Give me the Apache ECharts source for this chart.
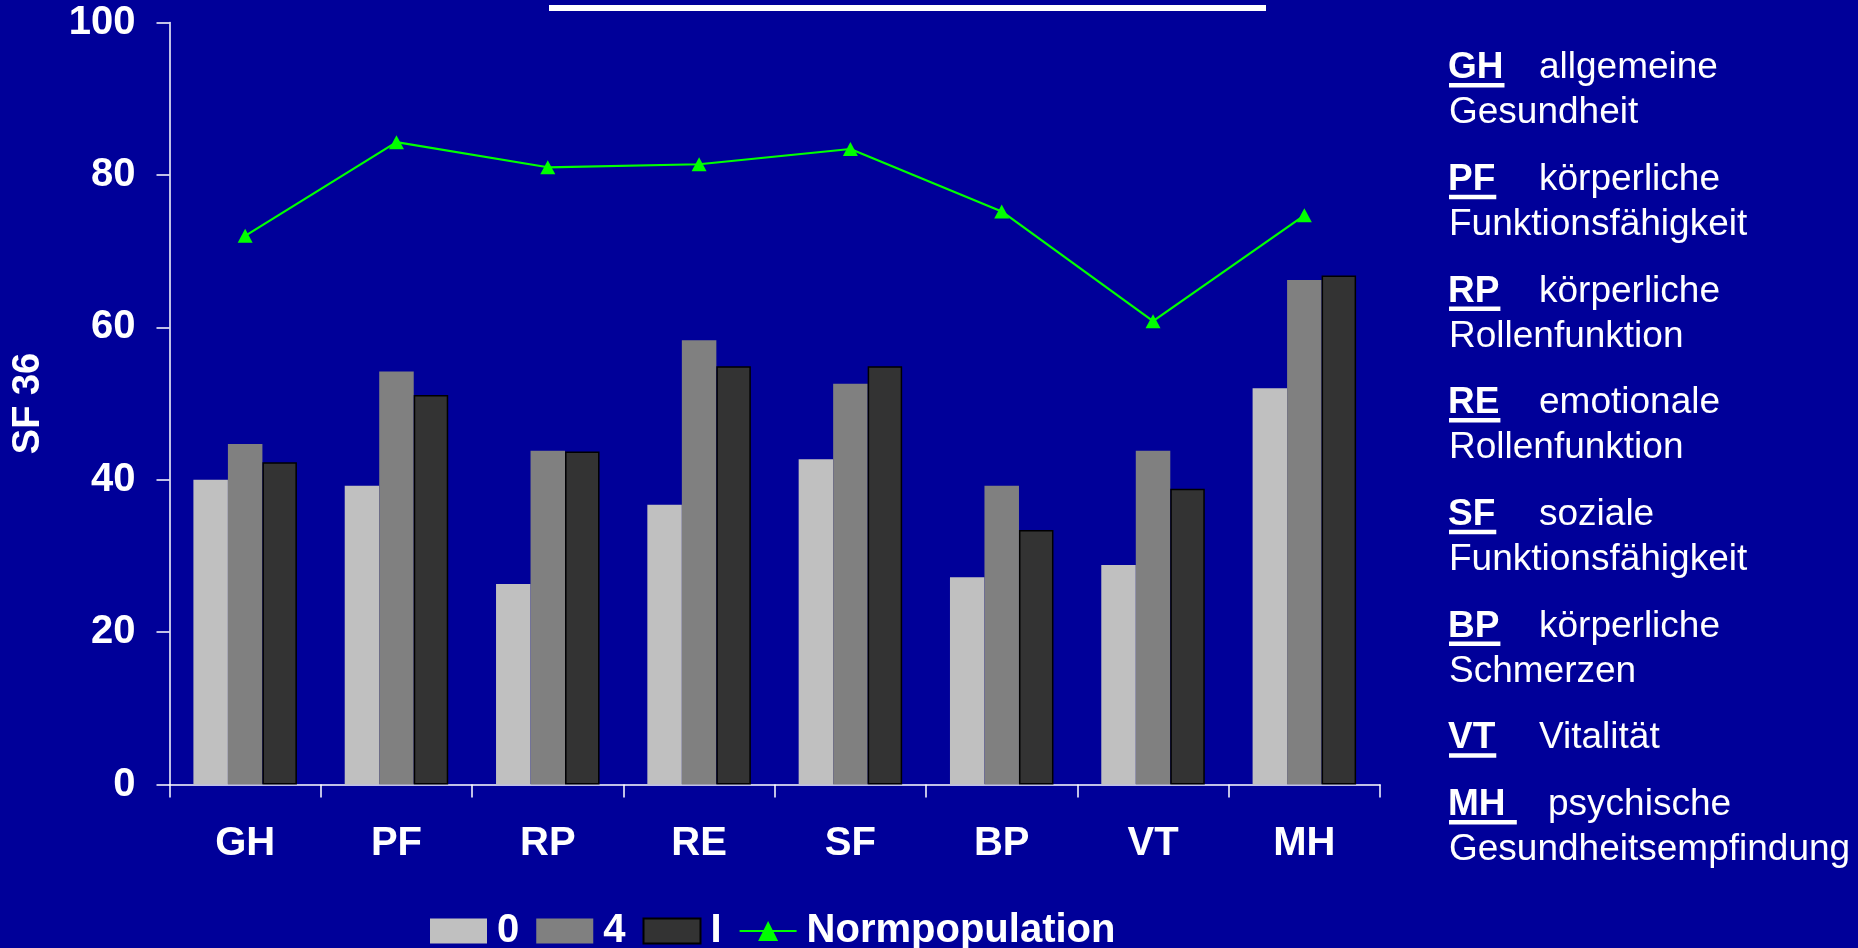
<!DOCTYPE html>
<html>
<head>
<meta charset="utf-8">
<script src="https://cdn.jsdelivr.net/npm/echarts@6.0.0/dist/echarts.min.js"></script>
<style>
  html, body { margin: 0; padding: 0; background: #000099; }
  #chart { width: 1858px; height: 948px; }
</style>
</head>
<body>
<div id="chart"></div>
<script>
  // SF-36 Skalen
  var category = ['GH', 'PF', 'RP', 'RE', 'SF', 'BP', 'VT', 'MH'];
  var data0 = [40.0, 39.2, 26.3, 36.7, 42.7, 27.2, 28.8, 52.0];
  var data4 = [44.7, 54.2, 43.8, 58.3, 52.6, 39.2, 43.8, 66.2];
  var dataI = [42.3, 51.1, 43.7, 54.9, 54.9, 33.4, 38.8, 66.8];
  var normData = [72.0, 84.3, 81.0, 81.4, 83.4, 75.2, 60.8, 74.7];
  var yTicks = [0, 20, 40, 60, 80, 100];

  // Erklärung rechts
  var descFirst = ['allgemeine', 'körperliche', 'körperliche', 'emotionale', 'soziale', 'körperliche', 'Vitalität', 'psychische'];
  var descSecond = ['Gesundheit', 'Funktionsfähigkeit', 'Rollenfunktion', 'Rollenfunktion', 'Funktionsfähigkeit', 'Schmerzen', '', 'Gesundheitsempfindung'];

  var FONT = '"Liberation Sans", Arial, sans-serif';

  function textWidth(str, font) {
    var ctx = document.createElement('canvas').getContext('2d');
    ctx.font = font;
    return ctx.measureText(str).width;
  }

  // Legende rechts als graphic
  var graphic = [
    // Unterstreichung des (abgeschnittenen) Titels
    { type: 'rect', left: 549, top: 5, shape: { width: 717, height: 6 }, style: { fill: '#fff' } }
  ];
  var baseY = 80;
  category.forEach(function (abbr, i) {
    var abbrText = abbr === 'MH' ? 'MH ' : abbr;
    graphic.push({
      type: 'text', x: 1448, y: baseY - 12,
      style: { text: abbr, fill: '#fff', font: 'bold 37px ' + FONT, verticalAlign: 'middle' }
    });
    graphic.push({
      type: 'rect', x: 1449, y: baseY + 3,
      shape: { width: textWidth(abbrText, 'bold 37px ' + FONT), height: 4.5 },
      style: { fill: '#fff' }
    });
    graphic.push({
      type: 'text', x: abbr === 'MH' ? 1548 : 1539, y: baseY - 12,
      style: { text: descFirst[i], fill: '#fff', font: '37px ' + FONT, verticalAlign: 'middle' }
    });
    if (descSecond[i]) {
      baseY += 45;
      graphic.push({
        type: 'text', x: 1449, y: baseY - 12,
        style: { text: descSecond[i], fill: '#fff', font: '37px ' + FONT, verticalAlign: 'middle' }
      });
    }
    baseY += 66.7;
  });

  var myChart = echarts.init(document.getElementById('chart'));
  var option = {
    backgroundColor: '#000099',
    animation: false,
    textStyle: { fontFamily: FONT },
    grid: {
      left: 169.5,
      right: 478,
      top: 22.5,
      bottom: 163.5
    },
    legend: {
      left: 425,
      top: 906,
      itemWidth: 57,
      itemHeight: 25,
      itemGap: 17,
      textStyle: {
        color: '#fff',
        fontSize: 40,
        fontWeight: 'bold',
        padding: [0, 0, 0, 5]
      },
      data: [
        { name: '0', icon: 'rect' },
        { name: '4', icon: 'rect' },
        { name: 'I', icon: 'rect' },
        { name: 'Normpopulation' }
      ]
    },
    xAxis: {
      type: 'category',
      data: category,
      axisLine: { lineStyle: { color: '#fff', width: 1.5 } },
      axisTick: { show: true, length: 13, lineStyle: { color: '#fff', width: 1.5 } },
      axisLabel: {
        color: '#fff',
        fontSize: 40,
        fontWeight: 'bold',
        margin: 39
      }
    },
    yAxis: {
      type: 'value',
      min: yTicks[0],
      max: yTicks[yTicks.length - 1],
      interval: yTicks[1] - yTicks[0],
      name: 'SF 36',
      nameLocation: 'middle',
      nameRotate: 90,
      nameGap: 122,
      nameTextStyle: { color: '#fff', fontSize: 38, fontWeight: 'bold' },
      splitLine: { show: false },
      axisLine: { show: true, lineStyle: { color: '#fff', width: 1.5 } },
      axisTick: { show: true, length: 13, lineStyle: { color: '#fff', width: 1.5 } },
      axisLabel: {
        color: '#fff',
        fontSize: 40,
        fontWeight: 'bold',
        margin: 34
      }
    },
    series: [
      {
        name: '0',
        type: 'bar',
        barWidth: 34.5,
        barGap: '0%',
        itemStyle: { color: '#C0C0C0' },
        data: data0
      },
      {
        name: '4',
        type: 'bar',
        barWidth: 34.5,
        barGap: '0%',
        itemStyle: { color: '#808080' },
        data: data4
      },
      {
        name: 'I',
        type: 'bar',
        barWidth: 34.5,
        barGap: '0%',
        itemStyle: { color: '#333333', borderColor: '#000', borderWidth: 1.5 },
        data: dataI
      },
      {
        name: 'Normpopulation',
        type: 'line',
        symbol: 'triangle',
        symbolSize: [15, 14],
        itemStyle: { color: '#00FF00' },
        lineStyle: { color: '#00FF00', width: 2.2 },
        z: 5,
        data: normData
      }
    ],
    graphic: graphic
  };
  myChart.setOption(option);
</script>
</body>
</html>
